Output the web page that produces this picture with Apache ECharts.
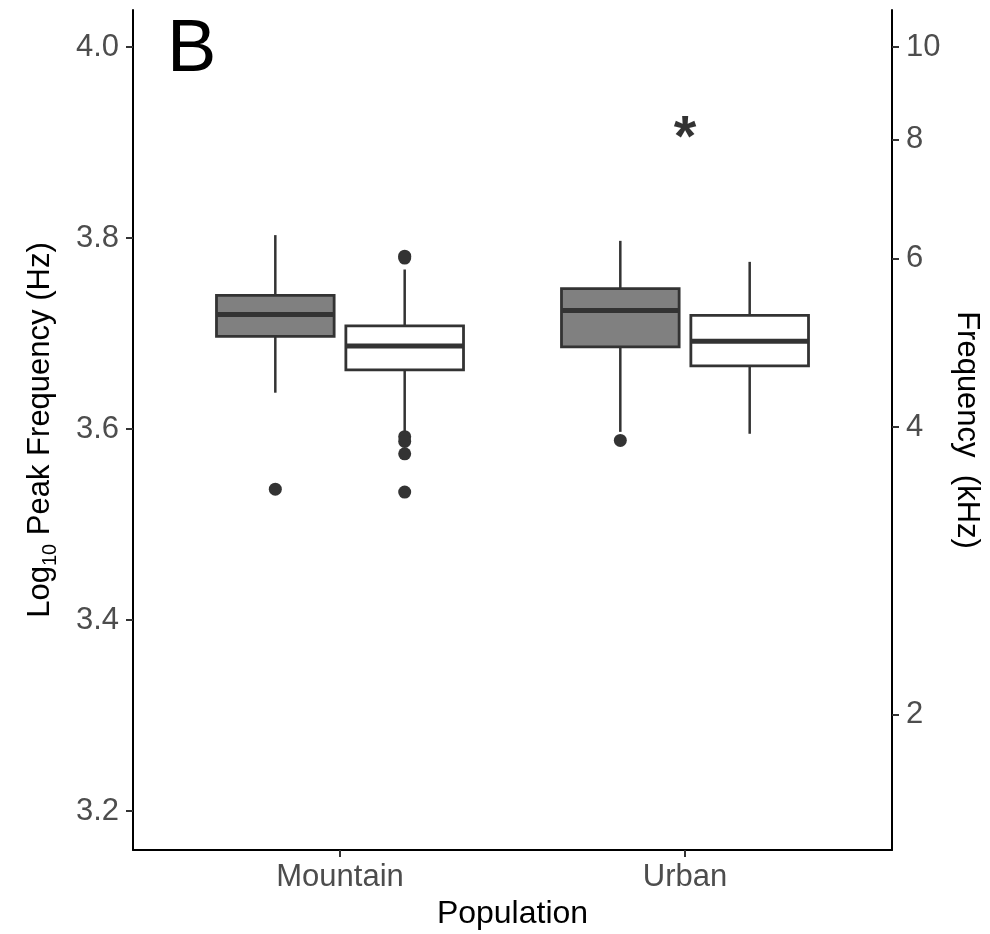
<!DOCTYPE html>
<html>
<head>
<meta charset="utf-8">
<title>Peak frequency by population</title>
<script src="https://cdn.jsdelivr.net/npm/echarts@6/dist/echarts.min.js"></script>
<style>
  html, body { margin: 0; padding: 0; background: #fff; }
  #chart { width: 990px; height: 934px; }
</style>
</head>
<body>
<div id="chart"></div>
<script>
// categories
const populations = ['Mountain', 'Urban'];

// box stats per population: [min, q1, median, q3, max]  (log10 Hz)
const greyStats = [
  [3.638, 3.697, 3.720, 3.740, 3.803],
  [3.597, 3.686, 3.724, 3.747, 3.797]
];
const whiteStats = [
  [3.596, 3.662, 3.687, 3.708, 3.767],
  [3.595, 3.666, 3.692, 3.719, 3.775]
];

// outliers per population
const greyOutliers = [[3.537], [3.588]];
const whiteOutliers = [[3.781, 3.779, 3.592, 3.587, 3.574, 3.534], []];

// significance marks
const sigPopulation = ['Urban'];
const sigValue = [3.915];

// axis ticks
const leftTicks = [3.2, 3.4, 3.6, 3.8, 4.0];
const rightTicksKHz = [2, 4, 6, 8, 10];

const yMin = 3.1592, yMax = 4.0387;
const dodge = 0.1875, boxWidth = 0.341;
const ink = '#333333';

function boxData(stats, offset) {
  return stats.map((s, i) => [i + 1 + offset].concat(s));
}
function outlierData(list, offset) {
  const out = [];
  list.forEach((vals, i) => vals.forEach(v => out.push([i + 1 + offset, v])));
  return out;
}

function renderBox(fill) {
  return function (params, api) {
    const x = api.value(0);
    const pMin = api.coord([x, api.value(1)]);
    const pQ1 = api.coord([x, api.value(2)]);
    const pMed = api.coord([x, api.value(3)]);
    const pQ3 = api.coord([x, api.value(4)]);
    const pMax = api.coord([x, api.value(5)]);
    const half = api.size([boxWidth, 0])[0] / 2;
    const c = pMed[0];
    return {
      type: 'group',
      children: [
        { type: 'line', shape: { x1: c, y1: pMax[1], x2: c, y2: pQ3[1] }, style: { stroke: ink, lineWidth: 2.5 } },
        { type: 'line', shape: { x1: c, y1: pQ1[1], x2: c, y2: pMin[1] }, style: { stroke: ink, lineWidth: 2.5 } },
        { type: 'rect', shape: { x: c - half, y: pQ3[1], width: half * 2, height: pQ1[1] - pQ3[1] },
          style: { fill: fill, stroke: ink, lineWidth: 2.8 } },
        { type: 'line', shape: { x1: c - half, y1: pMed[1], x2: c + half, y2: pMed[1] }, style: { stroke: ink, lineWidth: 5 } }
      ]
    };
  };
}

const font = 'Liberation Sans, Arial, Helvetica, sans-serif';
const chart = echarts.init(document.getElementById('chart'));

const option = {
  backgroundColor: '#ffffff',
  animation: false,
  title: {
    text: 'B',
    left: 162,
    top: 9,
    textStyle: { fontSize: 74, fontWeight: 'normal', color: '#000', fontFamily: font }
  },
  grid: { left: 133, right: 98, top: 10, bottom: 84, outerBoundsMode: 'none', containLabel: false },
  xAxis: {
    type: 'value',
    min: 0.4,
    max: 2.6,
    name: 'Population',
    nameLocation: 'middle',
    nameGap: 48,
    nameTextStyle: { fontSize: 32, color: '#000', fontFamily: font },
    axisLine: { lineStyle: { color: '#000', width: 2 } },
    axisTick: { show: true, customValues: [1, 2], length: 7, lineStyle: { color: ink, width: 2 } },
    axisLabel: {
      customValues: [1, 2],
      formatter: v => populations[Math.round(v) - 1],
      fontSize: 31, color: '#4d4d4d', margin: 12, fontFamily: font
    },
    splitLine: { show: false }
  },
  yAxis: [{
    type: 'value',
    min: yMin,
    max: yMax,
    position: 'left',
    name: '{a|Log}{s|10}{a| Peak Frequency (Hz)}',
    nameLocation: 'middle',
    nameGap: 76,
    nameTextStyle: {
      color: '#000', fontFamily: font,
      rich: {
        a: { fontSize: 31, color: '#000', fontFamily: font, lineHeight: 34 },
        s: { fontSize: 20, color: '#000', fontFamily: font, lineHeight: 34, verticalAlign: 'bottom', padding: [0, 0, -3, 0] }
      }
    },
    axisLine: { show: true, lineStyle: { color: '#000', width: 2 } },
    axisTick: { show: true, customValues: leftTicks, length: 7, lineStyle: { color: ink, width: 2 } },
    axisLabel: {
      customValues: leftTicks,
      formatter: v => v.toFixed(1),
      fontSize: 31, color: '#4d4d4d', margin: 14, fontFamily: font
    },
    splitLine: { show: false }
  }, {
    type: 'value',
    min: yMin,
    max: yMax,
    position: 'right',
    name: 'Frequency  (kHz)',
    nameLocation: 'middle',
    nameRotate: -90,
    nameGap: 57,
    nameTextStyle: { fontSize: 31, color: '#000', fontFamily: font },
    axisLine: { show: true, lineStyle: { color: '#000', width: 2 } },
    axisTick: { show: true, customValues: rightTicksKHz.map(k => Math.log10(k * 1000)), length: 7, lineStyle: { color: ink, width: 2 } },
    axisLabel: {
      customValues: rightTicksKHz.map(k => Math.log10(k * 1000)),
      formatter: v => String(Math.round(Math.pow(10, v) / 1000)),
      fontSize: 31, color: '#4d4d4d', margin: 14, fontFamily: font
    },
    splitLine: { show: false }
  }],
  series: [{
    type: 'custom',
    name: 'grey',
    renderItem: renderBox('#808080'),
    encode: { x: 0, y: [1, 2, 3, 4, 5] },
    data: boxData(greyStats, -dodge)
  }, {
    type: 'custom',
    name: 'white',
    renderItem: renderBox('#ffffff'),
    encode: { x: 0, y: [1, 2, 3, 4, 5] },
    data: boxData(whiteStats, dodge)
  }, {
    type: 'scatter',
    symbolSize: 13,
    itemStyle: { color: ink, opacity: 1 },
    data: outlierData(greyOutliers, -dodge).concat(outlierData(whiteOutliers, dodge))
  }, {
    type: 'scatter',
    symbolSize: 1,
    itemStyle: { color: 'rgba(0,0,0,0)' },
    label: {
      show: true,
      position: 'inside',
      formatter: '*',
      fontSize: 58,
      fontWeight: 'bold',
      color: '#000',
      fontFamily: font,
      offset: [0, 12]
    },
    data: sigPopulation.map((p, i) => [populations.indexOf(p) + 1, sigValue[i]])
  }]
};

chart.setOption(option);
</script>
</body>
</html>
